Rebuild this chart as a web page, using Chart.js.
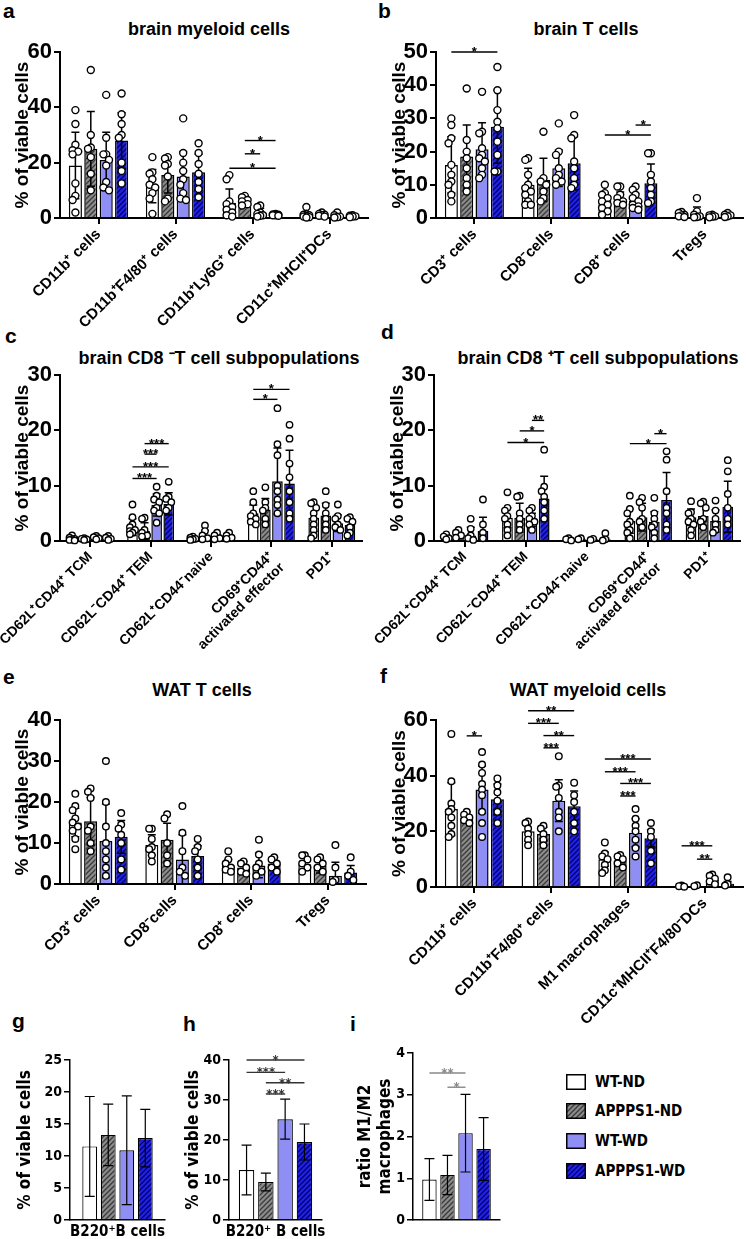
<!DOCTYPE html>
<html>
<head>
<meta charset="utf-8">
<script src="https://cdn.jsdelivr.net/npm/chart.js@4.4.0/dist/chart.umd.min.js"></script>
<style>
  body { margin: 0; background: #fff; width: 746px; height: 1239px; position: relative; overflow: hidden;
         font-family: 'Liberation Sans', Arial, sans-serif; }
  .box { position: absolute; }
  .letter { position: absolute; font-weight: bold; font-size: 21px; line-height: 21px; }
  .title { position: absolute; font-weight: bold; font-size: 18px; line-height: 20px; white-space: nowrap; transform: translate(-50%, -50%); }
  .legend { position: absolute; left: 566px; font-family: 'Liberation Sans Narrow', 'DejaVu Sans Condensed', sans-serif;
            font-weight: bold; font-size: 15px; }
  .legend div { position: absolute; white-space: nowrap; }
  .legend canvas { position: absolute; left: 0; }
  .legend span { position: absolute; left: 29px; line-height: 16px; }
</style>
</head>
<body>
<div class="letter" style="left:3px;top:0px">a</div>
<div class="letter" style="left:378px;top:0px">b</div>
<div class="letter" style="left:5px;top:325px">c</div>
<div class="letter" style="left:381px;top:321px">d</div>
<div class="letter" style="left:3px;top:666px">e</div>
<div class="letter" style="left:380px;top:665px">f</div>
<div class="letter" style="left:12px;top:1010px">g</div>
<div class="letter" style="left:183px;top:1013px">h</div>
<div class="letter" style="left:350px;top:1013px">i</div>

<div class="title" style="left:209px;top:29px">brain myeloid cells</div>
<div class="title" style="left:586px;top:29px">brain T cells</div>
<div class="title" style="left:219px;top:358px">brain CD8 ⁻T cell subpopulations</div>
<div class="title" style="left:598px;top:358px">brain CD8 ⁺T cell subpopulations</div>
<div class="title" style="left:202px;top:690px">WAT T cells</div>
<div class="title" style="left:588px;top:690px">WAT myeloid cells</div>

<div class="legend" id="legend"></div>

<script>
// groups (one dataset each)
const seriesNames = ['WT-ND', 'APPPS1-ND', 'WT-WD', 'APPPS1-WD'];

// a - brain myeloid cells
const aCats = ['CD11b⁺ cells', 'CD11b⁺F4/80⁺ cells', 'CD11b⁺Ly6G⁺ cells', 'CD11c⁺MHCII⁺DCs'];
const aMean = [[19, 11.5, 5.5, 1.0], [25, 15.5, 5.8, 1.0], [21, 15, 2.0, 0.6], [28, 16.5, 1.2, 0.6]];
const aSD = [[12, 6, 5, 1.0], [13.5, 6.5, 1.5, 0.5], [10, 9, 1.5, 0.4], [10, 6.5, 0.5, 0.3]];
const aDots = [
  [[39, 34, 26.5, 24.5, 24, 23, 12.5, 8, 6.5, 2], [22, 16.5, 16, 14, 12, 11, 9, 7, 1.5], [15.5, 14, 6, 5, 4, 3, 2, 1, 0.5], [4, 1.5, 1.2, 1, 0.8, 0.5, 0.3, 0.2]],
  [[53.5, 30, 25.5, 25, 22, 16, 10], [22, 21.5, 19.5, 19, 15, 7, 6], [8, 7.5, 6.5, 6, 5, 4.5], [2, 1.5, 1.2, 1, 0.8, 0.5]],
  [[44.5, 29, 23, 23, 21, 19, 13, 11, 10], [36, 23.5, 20, 17, 14, 12, 9, 7, 6.5], [4.5, 4, 2, 1.5, 1, 0.8, 0.5], [2, 1, 0.5, 0.3, 0.2]],
  [[45, 37.5, 34, 30, 29, 20, 17, 12.5], [27, 23.5, 19.5, 16, 13, 10.5, 7.5], [1.5, 1.3, 1.2, 1, 1, 0.8], [1, 0.8, 0.6, 0.5, 0.3]]
];
// [category, group from, group to, y value, label]
const aSig = [[2, 0, 3, 18, '*'], [2, 1, 2, 23.2, '*'], [2, 1, 3, 28, '*']];
const aTicks = { max: 60, step: 20 };

// b - brain T cells
const bCats = ['CD3⁺ cells', 'CD8⁻cells', 'CD8⁺ cells', 'Tregs'];
const bMean = [[16, 10, 5.5, 0.8], [18.5, 11.5, 5.8, 1.0], [20.7, 15, 5.2, 0.6], [27.5, 16.5, 10.5, 0.6]];
const bSD = [[8.5, 5, 2, 0.6], [9.5, 6.5, 2, 2.3], [8, 5.5, 2.2, 0.3], [11, 8, 5.8, 0.4]];
const bDots = [
  [[30, 28, 24, 22.5, 16, 13, 11, 10, 7, 5], [18, 17.5, 13, 10, 9, 8, 7, 5, 4, 4], [10, 7.5, 7, 6, 5, 4, 3, 2, 1], [1.8, 1.5, 1, 0.8, 0.5, 0.3]],
  [[39, 23.5, 20, 18, 15, 12, 10, 8], [26, 12, 11, 10, 8, 6, 5], [9.5, 9.5, 7, 6, 5, 4.5, 4], [6, 2, 1, 0.5, 0.3, 0.2]],
  [[38, 26, 25.5, 21, 19, 18, 17, 15, 13, 12], [28.5, 20, 19, 15, 13, 12, 11, 10], [9.5, 8.5, 7, 6, 5, 4, 3.5, 3, 2.5], [1, 0.8, 0.5, 0.4, 0.2]],
  [[45.5, 38.5, 32.5, 29, 27, 23, 19, 14, 14], [31, 25, 24, 17, 15, 12, 10, 9], [19.5, 19.5, 13, 11, 9, 7, 5, 4.5], [1.5, 1, 0.8, 0.5, 0.3]]
];
const bSig = [[0, 0, 3, 50, '*'], [2, 0, 3, 25, '*'], [2, 2, 3, 28, '*']];
const bTicks = { max: 50, step: 10 };

// c - brain CD8- T cell subpopulations
const cCats = ['CD62L⁺CD44⁺ TCM', 'CD62L⁻CD44⁺ TEM', 'CD62L⁺CD44⁻naive', ['CD69⁺CD44⁺', 'activated effector'], 'PD1⁺'];
const cMean = [[0.3, 2.5, 0.5, 5, 4.2], [0.3, 1.8, 0.9, 5.7, 4.6], [0.5, 6.5, 0.5, 10.8, 3.2], [0.4, 6.7, 0.6, 10.4, 2.9]];
const cSD = [[0.2, 1.5, 0.4, 1.5, 2.5], [0.2, 1.5, 1, 2, 2.2], [0.3, 2, 0.5, 6, 1.5], [0.2, 2, 0.5, 6, 1.2]];
const cDots = [
  [[1, 0.6, 0.4, 0.3, 0.2, 0.1], [6.6, 4.3, 3, 2.5, 2, 1.8, 1.5, 1.2], [0.8, 0.6, 0.4, 0.3, 0.2], [9, 7, 5, 4.5, 4, 3.5, 3], [7, 6.8, 6, 5, 4, 3, 2, 1, 0.5]],
  [[0.5, 0.4, 0.3, 0.2], [4.2, 4, 2, 1.5, 1, 0.8], [2.8, 1.8, 1, 0.5, 0.3], [9.7, 7, 6, 5.5, 4, 3], [9, 6.5, 5, 4, 3, 2]],
  [[0.9, 0.7, 0.5, 0.3], [9.8, 8.2, 7.5, 7, 6, 5.5, 5, 3.3], [1.5, 1, 0.5, 0.3], [24, 17.5, 15.5, 10, 9, 7.5, 6.5, 5], [6.6, 4.5, 4, 3, 2.5, 2]],
  [[0.9, 0.6, 0.4, 0.2], [10.7, 8, 7.6, 7, 6, 5.5], [1.5, 1, 0.6, 0.4], [21, 18.5, 14, 11.5, 9, 7, 5, 4], [4.3, 4, 3.5, 2.5, 1.5, 1]]
];
const cSig = [[1, 1, 3, 17.6, '***'], [1, 1, 2, 15.7, '***'], [1, 0, 3, 13.4, '***'], [1, 0, 2, 11.3, '***'], [3, 0, 3, 27.4, '*'], [3, 0, 2, 25.6, '*']];
const cTicks = { max: 30, step: 10 };

// d - brain CD8+ T cell subpopulations
const dCats = cCats;
const dMean = [[0.6, 4.2, 0.3, 3.6, 4.3], [0.9, 4.2, 0.3, 4.3, 4.5], [1, 3.8, 0.3, 3.5, 3.6], [1.8, 7.7, 0.3, 7.4, 6.2]];
const dSD = [[0.4, 1.8, 0.15, 2.2, 1.5], [0.5, 2.6, 0.15, 2.5, 2.2], [1.5, 1.2, 0.15, 1.8, 2], [2.5, 4, 0.2, 5, 4.6]];
const dDots = [
  [[1.2, 0.8, 0.5, 0.3], [8.8, 6, 5.5, 4.5, 4, 3, 2, 1], [0.5, 0.3, 0.1], [8.2, 5.8, 5, 3.5, 3, 2, 1.5, 0.5], [7.2, 5.2, 5, 4, 3.5, 3, 2, 1]],
  [[2, 1.5, 1, 0.6], [8.2, 8, 5, 4, 3, 2], [0.5, 0.3], [7.8, 7, 6, 4, 3.5, 2.5], [7.1, 6.8, 6, 4, 3.5, 2.5]],
  [[4, 2.2, 1, 0.5, 0.2], [6, 5.5, 4.5, 4, 3.5, 3, 2], [0.4, 0.2], [7.8, 5, 4, 3, 2.5, 1.5, 0.5], [7.3, 5.5, 4, 3, 2, 1.5]],
  [[7.5, 3, 1.5, 0.5], [16.5, 9.8, 9, 8, 7, 5.5, 4], [1.4, 0.3, 0.1], [16.2, 14.7, 9, 6, 5, 3, 2], [14.6, 12.6, 8.5, 6, 4, 3]]
];
const dSig = [[1, 2, 3, 21.8, '**'], [1, 1, 3, 19.9, '*'], [1, 0, 3, 17.8, '*'], [3, 0, 3, 17.6, '*'], [3, 2, 3, 19.4, '*']];
const dTicks = { max: 30, step: 10 };

// e - WAT T cells
const eCats = ['CD3⁺ cells', 'CD8⁻cells', 'CD8⁺ cells', 'Tregs'];
const eMean = [[15, 9.5, 4.5, 4.8], [15.3, 10.8, 4, 4.5], [10.5, 6, 4.5, 2], [11.5, 6.8, 5, 2.8]];
const eSD = [[3.5, 2.5, 1.5, 1.5], [5.8, 4, 1.5, 1.8], [9, 6, 3, 3.3], [4, 2.5, 1.5, 1.7]];
const eDots = [
  [[22, 19, 18, 16, 15, 14, 13, 11, 8.5], [13.5, 13.5, 11, 9, 8.5, 7, 5.5], [8, 6, 5, 4, 3.5, 3], [7, 7, 6, 5, 4, 3]],
  [[23.3, 22.5, 21, 14, 13, 10, 8], [17, 16, 10, 7, 5], [5.5, 5, 4, 3, 2.5], [6.5, 6, 5, 4, 3]],
  [[30, 20, 14, 10, 8, 6, 4, 2], [19, 12.5, 8, 4, 3, 2], [10.8, 7.2, 5, 4, 3, 2], [9.5, 4, 1, 0.5]],
  [[17.3, 14.5, 13.5, 12, 10, 6, 3.5], [11, 9, 8, 6, 4, 2], [6.5, 6, 5, 4, 3], [6.5, 3, 2, 1]]
];
const eSig = [];
const eTicks = { max: 40, step: 10 };

// f - WAT myeloid cells
const fCats = ['CD11b⁺ cells', 'CD11b⁺F4/80⁺ cells', 'M1 macrophages', 'CD11c⁺MHCII⁺F4/80⁻DCs'];
const fMean = [[28, 20, 10, 0.3], [25, 19, 9.5, 0.3], [35, 31, 19.5, 2.5], [31.5, 29, 17.5, 1.2]];
const fSD = [[9.5, 3.5, 2.5, 0.2], [2, 2.5, 1.8, 0.2], [8.5, 7.5, 5, 1], [5.5, 5.5, 3, 0.8]];
const fDots = [
  [[55, 38, 30, 28, 27, 25, 22, 19, 18], [23.5, 23, 21, 19, 17, 15], [16, 12, 11, 10, 8, 6, 5], [0.5, 0.3, 0.1]],
  [[27, 26, 25, 24, 23], [22, 21, 19, 17, 15], [11.5, 11, 10, 8.5, 7], [0.6, 0.3]],
  [[48.5, 44, 41, 37, 35, 33, 27, 23, 18], [47, 36.5, 36, 32, 27, 25, 20], [28, 24.5, 22, 20, 17, 14, 11], [4.5, 4, 3, 2, 1]],
  [[39, 36.5, 34, 31, 27, 23], [37.5, 33, 30.5, 27, 23, 20], [23, 20, 18, 13, 8.5], [3.5, 1, 0.5]]
];
const fSig = [[0, 1, 2, 54.3, '*'], [1, 0, 3, 63.3, '**'], [1, 0, 2, 58.8, '***'], [1, 1, 3, 54.4, '**'], [1, 1, 2, 50, '***'],
  [2, 0, 3, 46, '***'], [2, 0, 2, 41.4, '***'], [2, 1, 3, 37.2, '***'], [2, 1, 2, 32.7, '***'], [3, 0, 2, 14.8, '***'], [3, 1, 2, 10, '**']];
const fTicks = { max: 60, step: 20 };

// g - B cells (brain)
const gCats = ['B220⁺B cells'];
const gMean = [[11.5], [13.3], [10.9], [12.8]];
const gSD = [[7.8], [4.8], [8.5], [4.5]];
const gTicks = { max: 25, step: 5 };

// h - B cells (WAT)
const hCats = ['B220⁺ B cells'];
const hMean = [[12.5], [9.5], [25.2], [19.5]];
const hSD = [[6.2], [2.2], [5], [4.5]];
const hSig = [[0, 0, 3, 40, '*'], [0, 0, 2, 36.9, '***'], [0, 1, 3, 34.3, '**'], [0, 1, 2, 31.5, '***']];
const hTicks = { max: 40, step: 10 };

// i - M1/M2 ratio
const iCats = [''];
const iMean = [[0.97], [1.08], [2.08], [1.7]];
const iSD = [[0.5], [0.47], [0.93], [0.75]];
const iSig = [[0, 0, 2, 3.52, '**'], [0, 1, 2, 3.18, '*']];
const iTicks = { max: 4, step: 1 };

const mainFont = "'Liberation Sans', Arial, sans-serif";
const narrowFont = "'Liberation Sans Narrow', 'DejaVu Sans Condensed', sans-serif";

// diagonal hatch fill
function stripes(bg, fg) {
  const c = document.createElement('canvas');
  c.width = 5; c.height = 5;
  const x = c.getContext('2d');
  x.fillStyle = bg; x.fillRect(0, 0, 5, 5);
  x.strokeStyle = fg; x.lineWidth = 1.3;
  x.beginPath();
  x.moveTo(-1, 6); x.lineTo(6, -1);
  x.moveTo(-1, 1); x.lineTo(1, -1);
  x.moveTo(4, 6); x.lineTo(6, 4);
  x.stroke();
  return x.createPattern(c, 'repeat');
}
const fills = ['#ffffff', stripes('#8c8c8c', '#3a3a3a'), '#8e8ef5', stripes('#2222e6', '#00006e')];

// error bars, individual points and significance brackets
function extras(p) {
  return {
    id: 'extras_' + p.id,
    afterDatasetsDraw(chart) {
      const ctx = chart.ctx, y = chart.scales.y;
      ctx.save();
      ctx.strokeStyle = '#000';
      ctx.lineWidth = p.ebw;
      chart.data.datasets.forEach((ds, si) => {
        chart.getDatasetMeta(si).data.forEach((bar, ci) => {
          const m = ds.data[ci], s = p.sd[si][ci];
          const t = y.getPixelForValue(m + s), b = y.getPixelForValue(Math.max(m - s, 0));
          ctx.beginPath();
          ctx.moveTo(bar.x, t); ctx.lineTo(bar.x, b);
          ctx.moveTo(bar.x - p.cap, t); ctx.lineTo(bar.x + p.cap, t);
          if (m - s > 0) { ctx.moveTo(bar.x - p.cap, b); ctx.lineTo(bar.x + p.cap, b); }
          ctx.stroke();
        });
      });

      if (p.dots) {
        const r = p.r;
        chart.data.datasets.forEach((ds, si) => {
          chart.getDatasetMeta(si).data.forEach((bar, ci) => {
            const lim = Math.max(bar.width / 2 - r * 0.5, 0);
            const offs = [0];
            for (let k = 1; k < 8; k++) { offs.push(-k * r * 0.8, k * r * 0.8); }
            const placed = [];
            p.dots[si][ci].forEach(v => {
              const py = y.getPixelForValue(v);
              let best = 0, bestD = -1;
              for (const o of offs) {
                if (Math.abs(o) > lim) continue;
                let dmin = Infinity;
                placed.forEach(q => { dmin = Math.min(dmin, Math.hypot(q[0] - o, q[1] - py)); });
                if (dmin >= 1.6 * r) { best = o; break; }
                if (dmin > bestD) { bestD = dmin; best = o; }
              }
              placed.push([best, py]);
            });
            ctx.lineWidth = 1.4;
            placed.forEach(([o, py]) => {
              ctx.beginPath();
              ctx.arc(bar.x + o, py, r, 0, Math.PI * 2);
              ctx.fillStyle = '#fff';
              ctx.fill();
              ctx.strokeStyle = '#000';
              ctx.stroke();
            });
          });
        });
      }

      (p.sig || []).forEach(([ci, a, b, v, txt]) => {
        const xa = chart.getDatasetMeta(a).data[ci].x;
        const xb = chart.getDatasetMeta(b).data[ci].x;
        const yy = y.getPixelForValue(v);
        ctx.strokeStyle = p.sigColor;
        ctx.lineWidth = 1.4;
        ctx.beginPath();
        ctx.moveTo(xa, yy); ctx.lineTo(xb, yy);
        ctx.stroke();
        ctx.fillStyle = p.sigColor;
        ctx.font = 'bold 13px ' + p.font;
        ctx.textAlign = 'center';
        ctx.textBaseline = 'alphabetic';
        ctx.fillText(txt, (xa + xb) / 2, yy + 4);
      });
      ctx.restore();
    }
  };
}

function makePanel(p) {
  const wrap = document.createElement('div');
  wrap.className = 'box';
  wrap.style.left = p.left + 'px';
  wrap.style.top = p.top + 'px';
  wrap.style.width = p.w + 'px';
  wrap.style.height = p.h + 'px';
  const cv = document.createElement('canvas');
  wrap.appendChild(cv);
  document.body.appendChild(wrap);

  const datasets = seriesNames.map((name, si) => ({
    label: name,
    data: p.mean[si],
    backgroundColor: fills[si],
    borderColor: '#000',
    borderWidth: p.bw,
    categoryPercentage: p.catPct,
    barPercentage: p.barPct
  }));

  new Chart(cv, {
    type: 'bar',
    data: { labels: p.cats, datasets },
    options: {
      responsive: true,
      maintainAspectRatio: false,
      animation: false,
      devicePixelRatio: 1,
      layout: { padding: { top: p.plotTop, left: 0, right: p.w - p.right, bottom: 0 } },
      plugins: { legend: { display: false }, tooltip: { enabled: false }, title: { display: false } },
      scales: {
        x: {
          border: { display: true, color: '#000', width: p.axw },
          grid: { display: true, drawOnChartArea: false, offset: false, drawTicks: p.xTicks, tickLength: 6, color: '#000', lineWidth: p.axw },
          ticks: { color: '#000', autoSkip: false, minRotation: p.rot, maxRotation: p.rot, padding: p.xPad,
                   font: { family: p.font, weight: 'bold', size: p.xFont, lineHeight: 1.1 } },
          afterFit: s => { s.height = p.h - p.plotBottom; s.paddingLeft = 0; s.paddingRight = 0; }
        },
        y: {
          min: 0, max: p.ticks.max,
          border: { display: true, color: '#000', width: p.axw },
          grid: { display: true, drawOnChartArea: false, tickLength: 6, color: '#000', lineWidth: p.axw },
          ticks: { stepSize: p.ticks.step, color: '#000', padding: 2, font: { family: p.font, weight: 'bold', size: p.yFont } },
          title: { display: true, text: p.yTitle, color: '#000', padding: { top: p.titlePad, bottom: 0 },
                   font: { family: p.font, weight: 'bold', size: p.yTitleFont, lineHeight: 1.15 } },
          afterFit: s => { s.width = p.axisX; s.paddingTop = 0; s.paddingBottom = 0; }
        }
      }
    },
    plugins: [extras(p)]
  });
}

const big = { font: mainFont, bw: 1.5, ebw: 1.5, cap: 4, axw: 2, xTicks: true, rot: 45, xPad: 2, xFont: 15, yFont: 22,
              yTitle: '% of viable cells', yTitleFont: 19, sigColor: '#000', catPct: 0.8, barPct: 0.85 };
const small = { font: narrowFont, bw: 1.2, ebw: 1.2, cap: 5, axw: 1.5, xTicks: false, rot: 0, xPad: 4, xFont: 15, yFont: 14,
                yTitle: '% of viable cells', yTitleFont: 17, sigColor: '#333', catPct: 0.8, barPct: 0.8 };

const panels = [
  Object.assign({}, big, { id: 'a', left: 0, top: 0, w: 373, h: 330, axisX: 60, right: 368, plotTop: 52, plotBottom: 218,
    cats: aCats, mean: aMean, sd: aSD, dots: aDots, sig: aSig, ticks: aTicks, r: 3.5, titlePad: 12 }),
  Object.assign({}, big, { id: 'b', left: 373, top: 0, w: 373, h: 330, axisX: 63, right: 370, plotTop: 52, plotBottom: 218,
    cats: bCats, mean: bMean, sd: bSD, dots: bDots, sig: bSig, ticks: bTicks, r: 3.5, titlePad: 16 }),
  Object.assign({}, big, { id: 'c', left: 0, top: 320, w: 373, h: 345, axisX: 60, right: 362, plotTop: 55, plotBottom: 221,
    cats: cCats, mean: cMean, sd: cSD, dots: cDots, sig: cSig, ticks: cTicks, r: 3.2, titlePad: 12, barPct: 0.88, xFont: 14 }),
  Object.assign({}, big, { id: 'd', left: 373, top: 320, w: 373, h: 345, axisX: 61, right: 367, plotTop: 55, plotBottom: 221,
    cats: dCats, mean: dMean, sd: dSD, dots: dDots, sig: dSig, ticks: dTicks, r: 3.2, titlePad: 14, barPct: 0.88, xFont: 14 }),
  Object.assign({}, big, { id: 'e', left: 0, top: 670, w: 373, h: 290, axisX: 60, right: 366, plotTop: 50, plotBottom: 214,
    cats: eCats, mean: eMean, sd: eSD, dots: eDots, sig: eSig, ticks: eTicks, r: 3.3, titlePad: 12 }),
  Object.assign({}, big, { id: 'f', left: 373, top: 670, w: 373, h: 360, axisX: 63, right: 370, plotTop: 50, plotBottom: 217,
    cats: fCats, mean: fMean, sd: fSD, dots: fDots, sig: fSig, ticks: fTicks, r: 3.3, titlePad: 16 }),
  Object.assign({}, small, { id: 'g', left: 0, top: 1030, w: 180, h: 209, axisX: 70, right: 165, plotTop: 30, plotBottom: 190,
    cats: gCats, mean: gMean, sd: gSD, dots: null, sig: [], ticks: gTicks, titlePad: 16, catPct: 0.78 }),
  Object.assign({}, small, { id: 'h', left: 180, top: 1030, w: 160, h: 209, axisX: 49, right: 142, plotTop: 30, plotBottom: 190,
    cats: hCats, mean: hMean, sd: hSD, dots: null, sig: hSig, ticks: hTicks, titlePad: 4, catPct: 0.83 }),
  Object.assign({}, small, { id: 'i', left: 340, top: 1030, w: 180, h: 209, axisX: 73, right: 160, plotTop: 23, plotBottom: 190,
    cats: iCats, mean: iMean, sd: iSD, dots: null, sig: iSig, ticks: iTicks, titlePad: 16, catPct: 0.83,
    yTitle: ['ratio M1/M2', 'macrophages'], sigColor: '#888' })
];

panels.forEach(makePanel);

// legend with the same fills
const legendTops = [1074, 1103, 1133, 1163];
const legend = document.getElementById('legend');
seriesNames.forEach((name, si) => {
  const item = document.createElement('div');
  item.style.top = legendTops[si] + 'px';
  const sw = document.createElement('canvas');
  sw.width = 20; sw.height = 16;
  const sctx = sw.getContext('2d');
  sctx.fillStyle = fills[si];
  sctx.fillRect(0, 0, 20, 16);
  sctx.strokeStyle = '#000';
  sctx.lineWidth = 1.5;
  sctx.strokeRect(0.75, 0.75, 18.5, 14.5);
  const txt = document.createElement('span');
  txt.textContent = name;
  item.appendChild(sw);
  item.appendChild(txt);
  legend.appendChild(item);
});
</script>
</body>
</html>
